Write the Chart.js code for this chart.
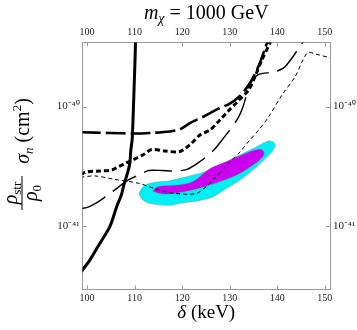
<!DOCTYPE html>
<html>
<head>
<meta charset="utf-8">
<script src="https://cdn.jsdelivr.net/npm/chart.js@4"></script>
<style>
  html, body { margin: 0; padding: 0; background: #fff; }
</style>
</head>
<body>
<canvas id="limits" width="357" height="330"></canvas>
<script>
// axis ticks
const xTicks = [100, 110, 120, 130, 140, 150];
const yTicks = [1e-41, 1e-40];

// thick solid curve
const solidDelta = [110.2, 110.08, 109.94, 109.73, 109.62, 109.47, 109.2, 108.99, 108.57, 107.73, 107.2, 106.25, 104.78, 102.67, 100.57, 99.03, 98.6];
const solidSigma = [3.7e-40, 2.47e-40, 1.67e-40, 9.38e-41, 7.02e-41, 5.25e-41, 4.32e-41, 3.36e-41, 2.83e-41, 2.2e-41, 1.81e-41, 1.46e-41, 9.82e-42, 7.11e-42, 5.15e-42, 4.25e-42, 4.0e-42];

// thick long-dash curve
const longDelta = [98.6, 104.78, 110.04, 113.2, 117.41, 119.52, 121.62, 124.78, 127.52, 130.04, 132.15, 133.98, 135.31, 136.36, 137.41, 138.04];
const longSigma = [6.1e-41, 6.01e-41, 5.95e-41, 6.01e-41, 6.19e-41, 6.45e-41, 7.26e-41, 8.35e-41, 9.57e-41, 1.06e-40, 1.23e-40, 1.52e-40, 1.88e-40, 2.33e-40, 3.05e-40, 3.63e-40];

// thick short-dash curve
const shortDelta = [98.6, 99.94, 102.67, 105.2, 106.67, 108.15, 109.62, 111.73, 113.62, 116.36, 119.52, 121.83, 123.73, 125.83, 127.94, 129.62, 131.73, 133.98, 135.31, 136.78, 138.46, 138.88];
const shortSigma = [2.7e-41, 2.83e-41, 2.88e-41, 2.94e-41, 3.14e-41, 3.36e-41, 3.57e-41, 3.93e-41, 4.36e-41, 4.24e-41, 4.2e-41, 4.87e-41, 5.78e-41, 6.37e-41, 7.73e-41, 9.11e-41, 1.11e-40, 1.38e-40, 1.78e-40, 2.47e-40, 3.43e-40, 3.93e-40];

// thin long-dash curve
const thinLongDelta = [98.6, 100.36, 102.46, 105.83, 108.36, 110.88, 112.99, 115.73, 118.46, 120.99, 123.73, 126.46, 128.57, 131.52, 132.78, 134.25, 135.94, 139.52, 141.64, 145.43, 145.85];
const thinLongSigma = [1.39e-41, 1.44e-41, 1.6e-41, 2.0e-41, 2.38e-41, 2.67e-41, 2.91e-41, 2.91e-41, 2.88e-41, 2.97e-41, 3.46e-41, 4.24e-41, 5.36e-41, 7.73e-41, 9.94e-41, 1.52e-40, 1.85e-40, 1.96e-40, 2.16e-40, 3.5e-40, 3.78e-40];

// thin short-dash curve
const thinShortDelta = [98.6, 101.62, 105.83, 110.88, 115.09, 118.46, 123.09, 126.46, 129.62, 132.15, 134.25, 135.94, 138.04, 140.99, 143.75, 145.43, 146.48, 147.94, 151.5];
const thinShortSigma = [2.55e-41, 2.62e-41, 2.45e-41, 2.27e-41, 2.0e-41, 1.87e-41, 1.88e-41, 2.42e-41, 3.3e-41, 4.16e-41, 5.25e-41, 6.25e-41, 8.04e-41, 1.25e-40, 1.78e-40, 2.47e-40, 2.85e-40, 2.77e-40, 2.54e-40];

// allowed region, outer (cyan) and inner (magenta) contours
const outerDelta = [110.88, 111.79, 113.2, 115.31, 117.41, 119.52, 122.32, 124.78, 127.94, 132.15, 135.66, 137.62, 138.67, 139.52, 139.31, 138.04, 135.66, 132.15, 129.35, 126.53, 124.78, 122.32, 120.21, 117.41, 113.89, 111.79, 110.88];
const outerSigma = [1.87e-41, 2.13e-41, 2.27e-41, 2.34e-41, 2.39e-41, 2.5e-41, 2.67e-41, 2.84e-41, 3.24e-41, 3.93e-41, 4.61e-41, 5.05e-41, 5.15e-41, 4.86e-41, 4.42e-41, 3.86e-41, 3.13e-41, 2.42e-41, 2.06e-41, 1.75e-41, 1.67e-41, 1.59e-41, 1.56e-41, 1.49e-41, 1.52e-41, 1.64e-41, 1.87e-41];
const innerDelta = [113.83, 114.46, 115.73, 117.83, 120.57, 122.67, 125.14, 126.46, 129.35, 133.56, 135.94, 137.09, 136.99, 134.25, 131.45, 127.94, 125.2, 122.67, 120.57, 117.41, 115.31, 113.83];
const innerSigma = [1.96e-41, 2.09e-41, 2.16e-41, 2.18e-41, 2.24e-41, 2.4e-41, 2.88e-41, 3.11e-41, 3.46e-41, 4.08e-41, 4.37e-41, 4.24e-41, 3.82e-41, 3.11e-41, 2.67e-41, 2.35e-41, 2.16e-41, 2.03e-41, 1.94e-41, 1.85e-41, 1.87e-41, 1.96e-41];

const serif = "'Liberation Serif', 'Times New Roman', serif";
const it = s => `italic ${s}px ${serif}`;
const rm = s => `${s}px ${serif}`;
const sup = { '0': '⁰', '1': '¹', '2': '²', '3': '³', '4': '⁴', '5': '⁵', '6': '⁶', '7': '⁷', '8': '⁸', '9': '⁹', '-': '⁻' };

function pts(xs, ys) {
  return xs.map((x, i) => ({ x: x, y: ys[i] }));
}

function curve(xs, ys, width, dash) {
  return {
    data: pts(xs, ys),
    borderColor: '#000',
    borderWidth: width,
    borderDash: dash,
    borderCapStyle: 'butt',
    pointRadius: 0,
    fill: false,
    tension: 0.3,
    order: 1
  };
}

function region(xs, ys, color, order) {
  return {
    data: pts(xs, ys),
    borderColor: 'rgba(120,120,120,0.6)',
    borderWidth: 0.6,
    backgroundColor: color,
    pointRadius: 0,
    fill: 'shape',
    tension: 0.4,
    order: order
  };
}

// draw pieces of text one after the other, centred on cx
function textRun(ctx, cx, y, parts) {
  let w = 0;
  parts.forEach(p => { ctx.font = p.f; w += ctx.measureText(p.t).width; });
  let x = cx - w / 2;
  parts.forEach(p => {
    ctx.font = p.f;
    ctx.fillText(p.t, x, y + (p.dy || 0));
    x += ctx.measureText(p.t).width;
  });
}

const labels = {
  id: 'labels',
  afterDraw(chart) {
    const ctx = chart.ctx;
    const a = chart.chartArea;
    const mid = (a.left + a.right) / 2;
    ctx.save();
    ctx.fillStyle = '#000';
    ctx.textBaseline = 'alphabetic';
    ctx.textAlign = 'left';
    textRun(ctx, mid, 19, [{ t: 'm', f: it(20) }, { t: 'χ', f: it(14), dy: 4 }, { t: ' = 1000 GeV', f: rm(20) }]);
    textRun(ctx, mid, 318, [{ t: 'δ', f: it(19) }, { t: ' (keV)', f: rm(19) }]);

    // vertical y title with the density fraction
    ctx.translate(22, 193);
    ctx.rotate(-Math.PI / 2);
    textRun(ctx, 0, -5, [{ t: 'ρ', f: it(20) }, { t: 'str', f: rm(13), dy: 4 }]);
    textRun(ctx, 0, 15, [{ t: 'ρ', f: it(20) }, { t: '0', f: rm(13), dy: 4 }]);
    ctx.lineWidth = 1;
    ctx.beginPath();
    ctx.moveTo(-17, 0);
    ctx.lineTo(17, 0);
    ctx.stroke();
    textRun(ctx, 62, 7, [{ t: 'σ', f: it(20) }, { t: 'n', f: it(13), dy: 4 }, { t: ' (cm', f: rm(20) }, { t: '2', f: rm(13), dy: -8 }, { t: ')', f: rm(20) }]);
    ctx.restore();
  }
};

// Mathematica style tick marks pointing into the frame
const innerTicks = {
  id: 'innerTicks',
  beforeDatasetsDraw(chart) {
    const ctx = chart.ctx;
    const a = chart.chartArea;
    const sx = chart.scales.x, sy = chart.scales.y;
    ctx.save();
    ctx.strokeStyle = '#999';
    ctx.lineWidth = 1;
    ctx.beginPath();
    sx.ticks.forEach(t => {
      const px = Math.round(sx.getPixelForValue(t.value)) + 0.5;
      ctx.moveTo(px, a.bottom); ctx.lineTo(px, a.bottom - 4);
      ctx.moveTo(px, a.top); ctx.lineTo(px, a.top + 4);
    });
    sy.ticks.forEach(t => {
      const py = Math.round(sy.getPixelForValue(t.value)) + 0.5;
      ctx.moveTo(a.left, py); ctx.lineTo(a.left + 4, py);
      ctx.moveTo(a.right, py); ctx.lineTo(a.right - 4, py);
    });
    ctx.stroke();
    ctx.restore();
  }
};

function xAxis(pos, h) {
  return {
    type: 'linear',
    position: pos,
    min: 99.03,
    max: 151.1,
    afterBuildTicks: s => { s.ticks = xTicks.map(v => ({ value: v })); },
    afterFit: s => { s.height = h; },
    ticks: { font: { family: serif, size: 10 }, color: '#222', padding: pos === 'top' ? 4 : 3, maxRotation: 0 },
    grid: { drawOnChartArea: false, drawTicks: false },
    border: { color: '#999', width: 1 }
  };
}

function yAxis(pos, w) {
  return {
    type: 'logarithmic',
    position: pos,
    min: 2.92e-42,
    max: 3.45e-40,
    afterBuildTicks: s => { s.ticks = yTicks.map(v => ({ value: v })); },
    afterFit: s => { s.width = w; },
    ticks: {
      font: { family: serif, size: 11 },
      color: '#222',
      padding: 3,
      callback: v => '10' + String(Math.round(Math.log10(v))).split('').map(c => sup[c]).join('')
    },
    grid: { drawOnChartArea: false, drawTicks: false },
    border: { color: '#999', width: 1 }
  };
}

new Chart(document.getElementById('limits').getContext('2d'), {
  type: 'line',
  data: {
    datasets: [
      curve(solidDelta, solidSigma, 3, []),
      curve(longDelta, longSigma, 2.6, [20, 5]),
      curve(shortDelta, shortSigma, 3, [5, 3]),
      curve(thinLongDelta, thinLongSigma, 1.4, [28, 9]),
      curve(thinShortDelta, thinShortSigma, 1, [4, 3]),
      region(innerDelta, innerSigma, 'rgb(204,0,240)', 5),
      region(outerDelta, outerSigma, 'rgb(0,240,245)', 6)
    ]
  },
  options: {
    responsive: false,
    animation: false,
    devicePixelRatio: 1,
    layout: { padding: 0 },
    plugins: { legend: { display: false }, tooltip: { enabled: false } },
    scales: {
      x: xAxis('bottom', 40.5),
      x2: xAxis('top', 42.5),
      y: yAxis('left', 82.5),
      y2: yAxis('right', 27)
    }
  },
  plugins: [innerTicks, labels]
});
</script>
</body>
</html>
